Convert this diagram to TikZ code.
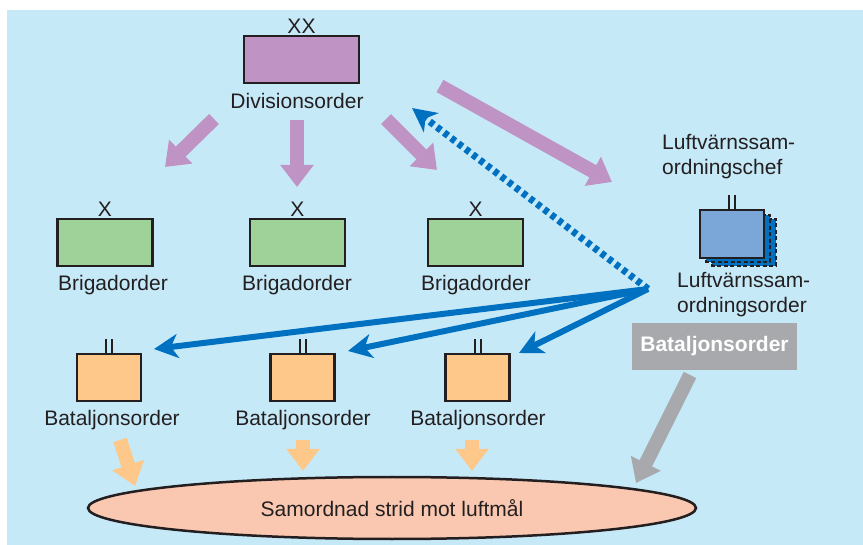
\documentclass[tikz,border=0pt]{standalone}
\usepackage{fontspec}
\setmainfont{Liberation Sans}
\usetikzlibrary{arrows.meta,positioning,shapes.geometric}
\definecolor{sky}{RGB}{198,233,248}
\definecolor{divc}{RGB}{191,148,196}
\definecolor{brig}{RGB}{158,210,153}
\definecolor{batc}{RGB}{253,200,137}
\definecolor{lvc}{RGB}{122,167,216}
\definecolor{lvb}{RGB}{0,112,192}
\definecolor{gry}{RGB}{167,169,172}
\definecolor{ell}{RGB}{250,200,176}
\definecolor{txt}{RGB}{35,31,32}

\begin{document}
\begin{tikzpicture}[x=1pt,y=-1pt,font=\fontsize{21}{25}\selectfont,text=txt,
  unit/.style={draw=txt,line width=2.5pt,inner sep=0pt},
  lbl/.style={inner sep=0pt},
  fat/.style={line width=14pt,-{Triangle[length=22pt,width=32pt]}},
  lead/.style={line width=6pt,lvb,-{Stealth[length=24pt,width=24pt,inset=7pt]}}]
  \useasboundingbox (0,0) rectangle (863,545);
  \fill[sky] (7,10) rectangle (863,545);
  % division
  \node[unit,fill=divc,minimum width=115pt,minimum height=47pt] (div) at (301.5,59.5) {};
  \node[lbl,anchor=south] (divmark) at ([yshift=1pt]div.north) {XX};
  \node[lbl] (divlbl) at (297,101) {Divisionsorder};
  % brigades
  \node[unit,fill=brig,minimum width=95pt,minimum height=47pt] (br1) at (105,242.5) {};
  \node[unit,fill=brig,minimum width=95pt,minimum height=47pt] (br2) at (297.5,242.5) {};
  \node[unit,fill=brig,minimum width=95pt,minimum height=47pt] (br3) at (475.5,242.5) {};
  \foreach \b in {br1,br2,br3} \node[lbl,anchor=south] at ([yshift=1pt]\b.north) {X};
  \node[lbl] (br1lbl) at (113,285) {Brigadorder};
  \node[lbl] (br2lbl) at (297,285) {Brigadorder};
  \node[lbl] (br3lbl) at (476,285) {Brigadorder};
  % battalions
  \node[unit,fill=batc,minimum width=64pt,minimum height=47pt] (bat1) at (109,377.5) {};
  \node[unit,fill=batc,minimum width=64pt,minimum height=47pt] (bat2) at (302.5,377.5) {};
  \node[unit,fill=batc,minimum width=64pt,minimum height=47pt] (bat3) at (477.5,377.5) {};
  \foreach \b in {bat1,bat2,bat3} {
    \draw[txt,line width=2pt] ([xshift=-3pt]\b.north) -- ++(0,-14);
    \draw[txt,line width=2pt] ([xshift=3pt]\b.north) -- ++(0,-14);
  }
  \node[lbl] (bat1lbl) at (112,420) {Bataljonsorder};
  \node[lbl] (bat2lbl) at (303,420) {Bataljonsorder};
  \node[lbl] (bat3lbl) at (478,420) {Bataljonsorder};
  % air defence coordinator
  \draw[fill=lvb,draw=txt,line width=2pt,dash pattern=on 4pt off 2.5pt] (712,219) rectangle (776,266);
  \draw[fill=lvb,draw=txt,line width=2pt,dash pattern=on 4pt off 2.5pt] (706,215) rectangle (770,262);
  \node[unit,fill=lvc,minimum width=64pt,minimum height=48pt] (lv) at (732,234) {};
  \draw[txt,line width=2pt] ([xshift=-3pt]lv.north) -- ++(0,-14);
  \draw[txt,line width=2pt] ([xshift=3pt]lv.north) -- ++(0,-14);
  \node[lbl,align=left,anchor=west] (lvchef) at (662,157) {Luftvärnssam-\\ordningschef};
  \node[lbl,align=left,anchor=west] (lvord) at (677,295) {Luftvärnssam-\\ordningsorder};
  \node[fill=gry,minimum width=165pt,minimum height=47pt,inner sep=0pt,text=white,font=\fontsize{21}{25}\selectfont\bfseries] (bobox) at (714.5,346.5) {Bataljonsorder};
  % goal
  \node[ellipse,draw=txt,line width=2.5pt,fill=ell,minimum width=608pt,minimum height=62pt,inner sep=0pt] (goal) at (392,508) {Samordnad strid mot luftmål};
  % purple orders
  \coordinate (p1a) at (214,119); \coordinate (p1b) at (165,167);
  \coordinate (p2a) at (297,120); \coordinate (p2b) at (297,187);
  \coordinate (p3a) at (386,119); \coordinate (p3b) at (437,170);
  \coordinate (p4a) at (440,86);  \coordinate (p4b) at (612,182);
  \draw[fat,divc] (p1a) -- (p1b);
  \draw[fat,divc] (p2a) -- (p2b);
  \draw[fat,divc] (p3a) -- (p3b);
  \draw[fat,divc] (p4a) -- (p4b);
  % orange / grey to goal
  \coordinate (o1a) at (120,440); \coordinate (o1b) at (135,486);
  \coordinate (o2a) at (303,440); \coordinate (o2b) at (303,471);
  \coordinate (o3a) at (472,440); \coordinate (o3b) at (472,471);
  \coordinate (ga) at (690,375);  \coordinate (gb) at (636,483);
  \draw[fat,batc] (o1a) -- (o1b);
  \draw[fat,batc] (o2a) -- (o2b);
  \draw[fat,batc] (o3a) -- (o3b);
  \draw[fat,gry] (ga) -- (gb);
  % blue orders
  \coordinate (hub) at (648,289);
  \coordinate (h1) at (154,349); \coordinate (h2) at (348,351); \coordinate (h3) at (519,353);
  \coordinate (hd) at (412,108);
  \draw[lead] (hub) -- (h1);
  \draw[lead] (hub) -- (h2);
  \draw[lead] (hub) -- (h3);
  \draw[lead,line width=7pt,dash pattern=on 5pt off 4pt] (hub) -- (hd);
\end{tikzpicture}
\end{document}
